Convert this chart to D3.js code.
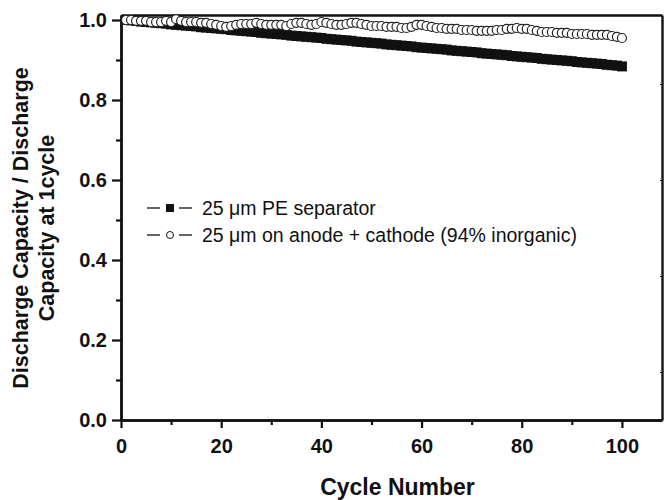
<!DOCTYPE html>
<html lang="en">
<head>
  <meta charset="UTF-8">
  <script src="https://d3js.org/d3.v7.min.js"></script>
  <title>Discharge capacity vs cycle</title>
  <style>
    body { margin: 0; background: #fff; }
    svg { font-family: "Liberation Sans", Arial, Helvetica, sans-serif; }
  </style>
</head>
<body>
  <svg width="664" height="500"></svg>
  <script>
    // cycle numbers (x)
    const cycles = [
      1, 2, 3, 4, 5, 6, 7, 8, 9, 10, 11, 12, 13, 14, 15, 16, 17, 18, 19, 20,
      21, 22, 23, 24, 25, 26, 27, 28, 29, 30, 31, 32, 33, 34, 35, 36, 37, 38, 39, 40,
      41, 42, 43, 44, 45, 46, 47, 48, 49, 50, 51, 52, 53, 54, 55, 56, 57, 58, 59, 60,
      61, 62, 63, 64, 65, 66, 67, 68, 69, 70, 71, 72, 73, 74, 75, 76, 77, 78, 79, 80,
      81, 82, 83, 84, 85, 86, 87, 88, 89, 90, 91, 92, 93, 94, 95, 96, 97, 98, 99, 100
    ];

    // filled squares: 25 um PE separator
    const peSeparator = [
      1.000, 0.999, 0.998, 0.996, 0.995, 0.994, 0.993, 0.992, 0.991, 0.989,
      0.988, 0.987, 0.986, 0.985, 0.984, 0.982, 0.981, 0.980, 0.979, 0.978,
      0.977, 0.975, 0.974, 0.973, 0.972, 0.971, 0.970, 0.968, 0.967, 0.966,
      0.965, 0.964, 0.963, 0.961, 0.960, 0.959, 0.958, 0.957, 0.956, 0.955,
      0.953, 0.952, 0.951, 0.950, 0.949, 0.948, 0.946, 0.945, 0.944, 0.943,
      0.942, 0.941, 0.939, 0.938, 0.937, 0.936, 0.935, 0.934, 0.932, 0.931,
      0.930, 0.929, 0.928, 0.927, 0.926, 0.924, 0.923, 0.922, 0.921, 0.920,
      0.919, 0.917, 0.916, 0.915, 0.914, 0.913, 0.912, 0.910, 0.909, 0.908,
      0.907, 0.906, 0.905, 0.903, 0.902, 0.901, 0.900, 0.899, 0.898, 0.897,
      0.895, 0.894, 0.893, 0.892, 0.891, 0.890, 0.888, 0.887, 0.886, 0.884
    ];

    // open circles: 25 um on anode + cathode (94% inorganic)
    const coatedElectrodes = [
      1.000, 1.000, 0.998, 0.998, 0.998, 0.995, 0.995, 0.995, 0.998, 0.995,
      1.002, 0.998, 0.995, 0.995, 0.995, 0.993, 0.993, 0.990, 0.988, 0.985,
      0.983, 0.985, 0.988, 0.990, 0.990, 0.990, 0.993, 0.990, 0.988, 0.988,
      0.988, 0.988, 0.985, 0.990, 0.993, 0.993, 0.990, 0.988, 0.990, 0.995,
      0.993, 0.990, 0.988, 0.988, 0.990, 0.993, 0.993, 0.990, 0.988, 0.985,
      0.985, 0.985, 0.983, 0.983, 0.983, 0.980, 0.980, 0.983, 0.988, 0.988,
      0.985, 0.983, 0.980, 0.980, 0.978, 0.978, 0.978, 0.975, 0.975, 0.975,
      0.973, 0.973, 0.973, 0.973, 0.975, 0.975, 0.978, 0.978, 0.980, 0.978,
      0.978, 0.975, 0.973, 0.970, 0.970, 0.970, 0.968, 0.968, 0.968, 0.965,
      0.965, 0.965, 0.965, 0.963, 0.963, 0.963, 0.963, 0.960, 0.958, 0.955
    ];

    const xMajor = [0, 20, 40, 60, 80, 100];
    const xMinor = [10, 30, 50, 70, 90];
    const yMajor = [0.0, 0.2, 0.4, 0.6, 0.8, 1.0];
    const yMinor = [0.1, 0.3, 0.5, 0.7, 0.9];
    const rightTicks = [0.12, 0.36, 0.60, 0.84];
    const legendLabels = ["25 \u03bcm PE separator", "25 \u03bcm on anode + cathode (94% inorganic)"];

    const svg = d3.select("svg");
    const ink = "#111";

    const xScale = d3.scaleLinear().domain([0, 108]).range([121, 662]);
    const yScale = d3.scaleLinear().domain([0, 1.0125]).range([420, 15]);

    const styleAxis = (g) => {
      g.selectAll("path.domain").attr("stroke", ink).attr("stroke-width", 2.4);
      g.selectAll(".tick line").attr("stroke", ink).attr("stroke-width", 2.2);
      g.selectAll(".tick text")
        .attr("fill", ink)
        .style("font-size", "20px")
        .style("font-weight", "bold");
    };

    // top and right frame
    svg.append("g")
      .attr("transform", `translate(0,${yScale(1.0125)})`)
      .call(d3.axisTop(xScale).tickValues([]).tickSizeOuter(0))
      .call(styleAxis);

    svg.append("g")
      .attr("transform", `translate(${xScale(108)},0)`)
      .call(d3.axisLeft(yScale).tickValues(rightTicks).tickSize(2).tickSizeOuter(0).tickFormat(""))
      .call(styleAxis)
      .call(g => g.selectAll(".tick line").attr("stroke-width", 1.2));

    // x axis
    svg.append("g")
      .attr("transform", `translate(0,${yScale(0)})`)
      .call(d3.axisBottom(xScale).tickValues(xMinor).tickSize(5).tickSizeOuter(0).tickFormat(""))
      .call(styleAxis);
    svg.append("g")
      .attr("transform", `translate(0,${yScale(0)})`)
      .call(d3.axisBottom(xScale).tickValues(xMajor).tickSize(8).tickPadding(11).tickSizeOuter(0).tickFormat(d3.format("d")))
      .call(styleAxis);

    // y axis
    svg.append("g")
      .attr("transform", `translate(${xScale(0)},0)`)
      .call(d3.axisLeft(yScale).tickValues(yMinor).tickSize(5).tickSizeOuter(0).tickFormat(""))
      .call(styleAxis);
    svg.append("g")
      .attr("transform", `translate(${xScale(0)},0)`)
      .call(d3.axisLeft(yScale).tickValues(yMajor).tickSize(9).tickPadding(5).tickSizeOuter(0).tickFormat(d3.format(".1f")))
      .call(styleAxis);

    // axis titles
    svg.append("text")
      .attr("x", (xScale(0) + xScale(108)) / 2 + 6)
      .attr("y", 495)
      .attr("text-anchor", "middle")
      .attr("fill", ink)
      .style("font-size", "23px")
      .style("font-weight", "bold")
      .text("Cycle Number");

    const yTitle = svg.append("g").attr("transform", "translate(0,228) rotate(-90)");
    [["Discharge Capacity / Discharge", 20], ["Capacity at 1cycle", 46]].forEach(([line, off]) => {
      yTitle.append("text")
        .attr("x", 0)
        .attr("y", off)
        .attr("dy", "0.35em")
        .attr("text-anchor", "middle")
        .attr("fill", ink)
        .style("font-size", "21.5px")
        .style("font-weight", "bold")
        .text(line);
    });

    const data = cycles.map((c, i) => ({ cycle: c, pe: peSeparator[i], coated: coatedElectrodes[i] }));
    const sq = 10;

    // filled squares
    svg.append("g").selectAll("rect")
      .data(data)
      .enter()
      .append("rect")
      .attr("x", d => xScale(d.cycle) - sq / 2)
      .attr("y", d => yScale(d.pe) - sq / 2)
      .attr("width", sq)
      .attr("height", sq)
      .attr("fill", ink);

    // open circles
    svg.append("g").selectAll("circle")
      .data(data)
      .enter()
      .append("circle")
      .attr("cx", d => xScale(d.cycle))
      .attr("cy", d => yScale(d.coated))
      .attr("r", 4.5)
      .attr("fill", "#fff")
      .attr("stroke", "#222")
      .attr("stroke-width", 1.2);

    // legend
    const legend = svg.append("g").attr("transform", "translate(147,208)");
    legendLabels.forEach((label, i) => {
      const row = legend.append("g").attr("transform", `translate(0,${i * 27})`);
      row.append("line").attr("x1", 0).attr("x2", 13).attr("stroke", ink).attr("stroke-width", 1.3);
      row.append("line").attr("x1", 32).attr("x2", 45).attr("stroke", ink).attr("stroke-width", 1.3);
      if (i === 0) {
        row.append("rect").attr("x", 19).attr("y", -4).attr("width", 8).attr("height", 8).attr("fill", ink);
      } else {
        row.append("circle").attr("cx", 23).attr("cy", 0).attr("r", 3.5)
          .attr("fill", "#fff").attr("stroke", ink).attr("stroke-width", 1);
      }
      row.append("text")
        .attr("x", 55)
        .attr("dy", "0.35em")
        .attr("fill", ink)
        .style("font-size", "19.5px")
        .text(label);
    });
  </script>
</body>
</html>
